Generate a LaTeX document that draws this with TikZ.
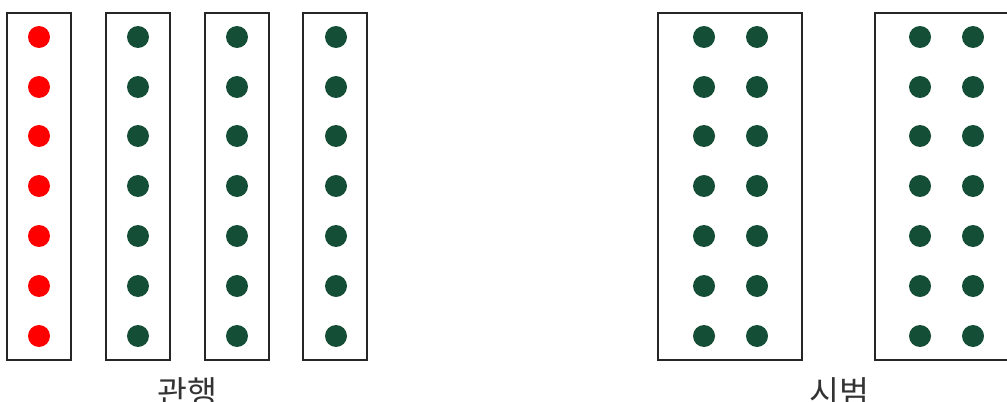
\documentclass[tikz,border=0pt]{standalone}
\usepackage{fontspec}
\newfontfamily\kofont{Noto Sans CJK KR}
\definecolor{dotgreen}{RGB}{21,78,55}
\definecolor{dotred}{RGB}{255,0,0}
\tikzset{
  plot box/.style={draw=black!85, line width=0.6pt},
  seed/.style={circle, inner sep=0pt, minimum size=0.44cm},
  plot label/.style={font=\kofont\fontsize{18.5}{20}\selectfont, text=black!80}
}
\begin{document}
\begin{tikzpicture}[x=0.02cm, y=-0.02cm]
        \useasboundingbox (0,0) rectangle (1007,402);
        %conventional
        \draw[plot box] (7,13) rectangle (71,360);
        \draw[plot box] (106,13) rectangle (170,360);
        \draw[plot box] (205,13) rectangle (269,360);
        \draw[plot box] (303,13) rectangle (367,360);
        \foreach \y in {37,87,136,186,236,286,336} {
            \node[seed, fill=dotred] at (39,\y) {};
            \foreach \x in {138,237,336}
                \node[seed, fill=dotgreen] at (\x,\y) {};
        }
        \node[plot label] (gwanhaeng) at (187,392) {관행};
        %pilot
        \draw[plot box] (658,13) rectangle (802,360);
        \draw[plot box] (875,13) rectangle (1019,360);
        \foreach \y in {37,87,136,186,236,286,336}
            \foreach \x in {704,757,920,973}
                \node[seed, fill=dotgreen] at (\x,\y) {};
        \node[plot label] (sibeom) at (839,392) {시범};
    \end{tikzpicture}
\end{document}
